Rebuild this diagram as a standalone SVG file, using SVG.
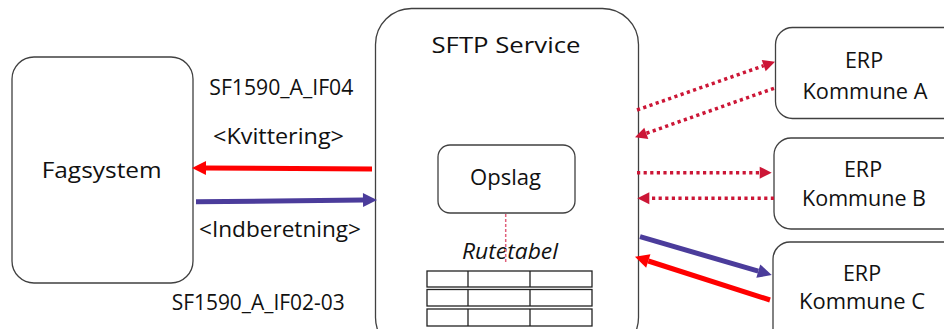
<svg xmlns="http://www.w3.org/2000/svg" width="944" height="329" viewBox="0 0 944 329">
<style>
.box{fill:#fff;stroke:#404040;stroke-width:1.3}
.cell{fill:#fff;stroke:#222;stroke-width:1.3}
text{font-family:"Open Sans","DejaVu Sans",sans-serif;fill:#111}
.lbl{font-size:21px}
.node{font-size:21.5px;text-anchor:middle}
.red{stroke:#ff0000;stroke-width:5;fill:none}
.pur{stroke:#4b3c9b;stroke-width:5;fill:none}
.dot{stroke:#cc1636;stroke-width:3.5;stroke-dasharray:3.2 3.4;fill:none}
</style>
<defs>
<marker id="ahRed" markerUnits="userSpaceOnUse" markerWidth="16" markerHeight="16" viewBox="0 -8 16 16" refX="0" refY="0" orient="auto" overflow="visible"><path d="M0,-7 L14,0 L0,7 z" fill="#ff0000"/></marker>
<marker id="ahPur" markerUnits="userSpaceOnUse" markerWidth="16" markerHeight="16" viewBox="0 -8 16 16" refX="0" refY="0" orient="auto" overflow="visible"><path d="M0,-7 L14,0 L0,7 z" fill="#4b3c9b"/></marker>
<marker id="ahDot" markerUnits="userSpaceOnUse" markerWidth="14" markerHeight="14" viewBox="0 -7 14 14" refX="0" refY="0" orient="auto" overflow="visible"><path d="M0,-6 L12,0 L0,6 z" fill="#cc1636"/></marker>
</defs>
<rect width="944" height="329" fill="#fff"/>

<g id="fagsystem">
<rect class="box" x="12" y="57" width="181" height="226" rx="22"/>
<text x="101.7" y="178" class="node" font-size="23" textLength="120" lengthAdjust="spacingAndGlyphs">Fagsystem</text>
</g>

<g id="sftp-service">
<rect class="box" x="375.5" y="8.5" width="263" height="345" rx="36"/>
<text x="506" y="53" class="node" font-size="25" textLength="149" lengthAdjust="spacingAndGlyphs">SFTP Service</text>
</g>

<g id="opslag">
<rect class="box" x="438" y="145" width="137" height="68" rx="12"/>
<text x="505.5" y="185" class="node" font-size="21" textLength="71" lengthAdjust="spacingAndGlyphs">Opslag</text>
</g>

<g id="rutetabel">
<text x="510" y="259" class="node" font-size="19.5" font-style="italic" textLength="96" lengthAdjust="spacingAndGlyphs">Rutetabel</text>
<rect class="cell" x="427" y="271" width="165" height="16"/>
<rect class="cell" x="427" y="289.5" width="165" height="16.5"/>
<rect class="cell" x="427" y="309" width="165" height="17"/>
<path d="M468,271V287M530,271V287M468,289.5V306M530,289.5V306M468,309V326M530,309V326" stroke="#222" stroke-width="1.3"/>
</g>

<g id="erp-a">
<rect class="box" x="775.5" y="27.5" width="190" height="91" rx="17"/>
<text x="864" y="68" class="node">ERP</text>
<text x="865" y="99" class="node" textLength="125" lengthAdjust="spacingAndGlyphs">Kommune A</text>
</g>

<g id="erp-b">
<rect class="box" x="774" y="138" width="190" height="91" rx="17"/>
<text x="863" y="176.7" class="node">ERP</text>
<text x="864" y="205.7" class="node" textLength="124" lengthAdjust="spacingAndGlyphs">Kommune B</text>
</g>

<g id="erp-c">
<rect class="box" x="773" y="242" width="190" height="110" rx="17"/>
<text x="862" y="280.7" class="node">ERP</text>
<text x="862" y="309.3" class="node" textLength="126" lengthAdjust="spacingAndGlyphs">Kommune C</text>
</g>

<g id="labels">
<text x="209.3" y="95" class="lbl" textLength="144" lengthAdjust="spacingAndGlyphs">SF1590_A_IF04</text>
<text x="213" y="144" class="lbl" textLength="131" lengthAdjust="spacingAndGlyphs">&lt;Kvittering&gt;</text>
<text x="199" y="236.7" class="lbl" textLength="162" lengthAdjust="spacingAndGlyphs">&lt;Indberetning&gt;</text>
<text x="171.7" y="310" class="lbl" textLength="173" lengthAdjust="spacingAndGlyphs">SF1590_A_IF02-03</text>
</g>

<g id="connectors">
<path class="dot" d="M505.7,214 V262" stroke="#e0607a" style="stroke:#e0607a;stroke-width:1.5;stroke-dasharray:3 2"/>
<path class="red" d="M372,169 L206,168.1" marker-end="url(#ahRed)"/>
<path class="pur" d="M196,201.7 L363,200.1" marker-end="url(#ahPur)"/>
<path class="dot" d="M637,110 L763.7,65.7" marker-end="url(#ahDot)"/>
<path class="dot" d="M774,88.3 L646.3,133.3" marker-end="url(#ahDot)"/>
<path class="dot" d="M637,172.7 L759.7,172.7" marker-end="url(#ahDot)"/>
<path class="dot" d="M774,198.3 L649.3,198.3" marker-end="url(#ahDot)"/>
<path class="pur" d="M640,236.7 L758.3,271.1" marker-end="url(#ahPur)"/>
<path class="red" d="M770,300 L648.3,261" marker-end="url(#ahRed)"/>
</g>
</svg>
